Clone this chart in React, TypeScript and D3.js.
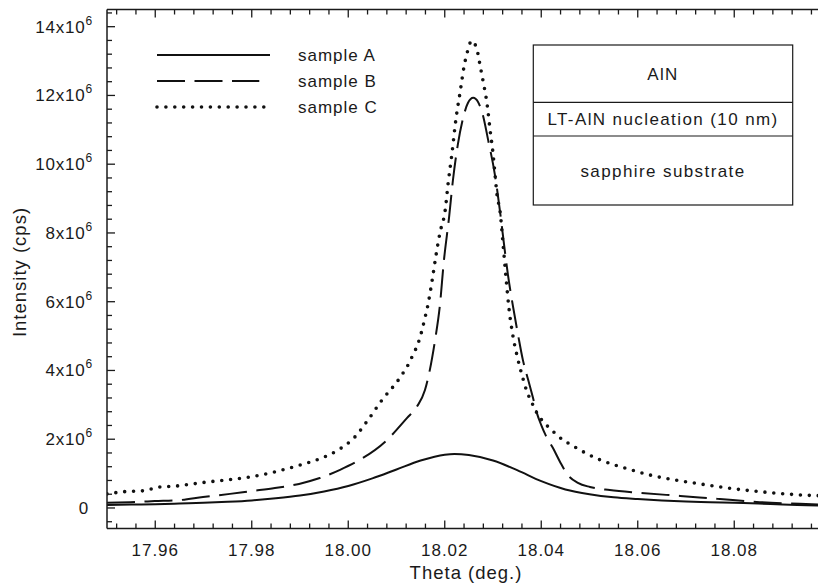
import React from "react";
import * as d3 from "d3";

// ---------- data (intensity in units of 1e6 cps) ----------
const thetaA = [17.95, 17.955, 17.96, 17.965, 17.97, 17.975, 17.98, 17.985, 17.99, 17.995, 18.0, 18.005, 18.01, 18.015, 18.02, 18.022, 18.025, 18.03, 18.035, 18.04, 18.045, 18.05, 18.055, 18.06, 18.065, 18.07, 18.075, 18.08, 18.085, 18.09, 18.095, 18.1];
const intensityA = [0.09, 0.1, 0.11, 0.13, 0.15, 0.18, 0.22, 0.28, 0.36, 0.48, 0.64, 0.86, 1.12, 1.38, 1.55, 1.57, 1.54, 1.38, 1.1, 0.78, 0.54, 0.4, 0.31, 0.26, 0.22, 0.19, 0.17, 0.15, 0.13, 0.1, 0.08, 0.06];

const thetaB = [17.95, 17.9548, 17.9599, 17.9651, 17.9699, 17.9755, 17.9798, 17.9848, 17.9898, 17.9941, 17.9983, 18.0024, 18.0076, 18.0122, 18.0142, 18.0159, 18.0169, 18.018, 18.019, 18.0198, 18.0209, 18.0217, 18.0227, 18.0238, 18.0248, 18.0259, 18.0269, 18.0279, 18.029, 18.0304, 18.0315, 18.0323, 18.0331, 18.0341, 18.0352, 18.0362, 18.0373, 18.0383, 18.0391, 18.04, 18.041, 18.0424, 18.0439, 18.0455, 18.0476, 18.0501, 18.0542, 18.0605, 18.0688, 18.077, 18.0853, 18.0936, 18.0998];
const intensityB = [0.15, 0.17, 0.2, 0.23, 0.32, 0.41, 0.49, 0.58, 0.7, 0.87, 1.11, 1.4, 1.92, 2.62, 2.94, 3.43, 4.01, 4.89, 5.9, 7.16, 8.46, 9.54, 10.56, 11.34, 11.78, 11.93, 11.81, 11.43, 10.7, 9.69, 8.58, 7.65, 6.78, 5.9, 5.03, 4.3, 3.72, 3.2, 2.76, 2.41, 2.09, 1.75, 1.34, 0.96, 0.73, 0.61, 0.52, 0.44, 0.35, 0.26, 0.17, 0.12, 0.09];

const thetaC = [17.95, 17.9533, 17.9575, 17.961, 17.9645, 17.9678, 17.9699, 17.9745, 17.9796, 17.9848, 17.99, 17.9941, 17.9983, 18.0014, 18.0041, 18.007, 18.0084, 18.0099, 18.0111, 18.0122, 18.0134, 18.0145, 18.0153, 18.0159, 18.0165, 18.0174, 18.0182, 18.019, 18.0201, 18.0207, 18.0215, 18.0223, 18.0232, 18.024, 18.0246, 18.0256, 18.0267, 18.0273, 18.0279, 18.0288, 18.0294, 18.03, 18.0304, 18.0308, 18.0315, 18.0321, 18.0327, 18.0333, 18.0341, 18.035, 18.036, 18.037, 18.0381, 18.0391, 18.0404, 18.042, 18.0435, 18.047, 18.0522, 18.0574, 18.0625, 18.0729, 18.0822, 18.088, 18.0936, 18.0998];
const intensityC = [0.41, 0.47, 0.5, 0.61, 0.64, 0.7, 0.74, 0.81, 0.9, 1.05, 1.25, 1.43, 1.72, 2.07, 2.56, 3.14, 3.38, 3.63, 3.87, 4.11, 4.45, 4.8, 5.18, 5.53, 5.9, 6.63, 7.36, 8.0, 8.67, 9.44, 10.32, 11.29, 12.11, 12.84, 13.22, 13.59, 13.32, 12.89, 12.45, 11.72, 10.99, 10.32, 9.73, 9.15, 8.58, 7.65, 6.69, 5.82, 5.03, 4.42, 3.87, 3.4, 3.05, 2.76, 2.51, 2.29, 2.09, 1.77, 1.4, 1.16, 0.96, 0.7, 0.52, 0.44, 0.38, 0.35];

const seriesNames = ["sample A", "sample B", "sample C"];
const xTickLabels = ["17.96", "17.98", "18.00", "18.02", "18.04", "18.06", "18.08"];
const yTickValues = [0, 2, 4, 6, 8, 10, 12, 14];
const layerLabels = ["AlN", "LT-AlN nucleation (10 nm)", "sapphire substrate"];

// ---------- layout ----------
const W = 818;
const H = 587;
const L = 107;
const T = 9.5;
const B = 528.6;
const R = 830.75;
const FONT = "'Liberation Sans', Arial, Helvetica, sans-serif";
const INK = "#1a1a1a";

export default function App() {
  const x = d3.scaleLinear().domain([17.95, 18.1]).range([L, R]);
  const y = d3.scaleLinear().domain([-0.6, 14.5]).range([B, T]);

  const mk = (th: number[], v: number[]) =>
    d3
      .line<number>()
      .x((_, i) => x(th[i]))
      .y((d) => y(d))
      .curve(d3.curveMonotoneX)(v) as string;

  const pathA = mk(thetaA, intensityA);
  const pathB = mk(thetaB, intensityB);
  const pathC = mk(thetaC, intensityC);

  const xMajor = xTickLabels.map((s) => +s);
  const xMinor = d3.range(0, 38).map((i) => +(17.952 + i * 0.004).toFixed(3)).filter((v) => v < 18.1);
  const yMinor = d3.range(-1, 37).map((i) => +(i * 0.4).toFixed(1)).filter((v) => v > -0.6 && v < 14.5);

  const styles = [
    { dash: undefined, width: 2, cap: "butt" },
    { dash: "28 9.5", width: 2, cap: "butt" },
    { dash: "0 8.9", width: 3.6, cap: "round" },
  ];
  const paths = [pathA, pathB, pathC];

  const legendY = [55, 81, 107];
  const legendEnd = [270, 259.3, 264];

  // inset box
  const bx0 = 533.3, bx1 = 792.7;
  const by = [45, 102.3, 136, 205];
  const bcx = (bx0 + bx1) / 2;

  return (
    <svg
      width={W}
      height={H}
      style={{ position: "absolute", left: 0, top: 0, background: "#fff" }}
      fontFamily={FONT}
    >
      <defs>
        <clipPath id="plotclip">
          <rect x={L} y={T} width={R - L} height={B - T} />
        </clipPath>
      </defs>

      {/* curves */}
      <g clipPath="url(#plotclip)" fill="none" stroke="#111">
        {paths.map((p, i) => (
          <path
            key={i}
            d={p}
            strokeWidth={styles[i].width}
            strokeDasharray={styles[i].dash}
            strokeLinecap={styles[i].cap as any}
            strokeLinejoin="round"
          />
        ))}
      </g>

      {/* frame */}
      <g stroke={INK} strokeWidth={1.5} fill="none">
        <line x1={L} x2={R} y1={B} y2={B} />
        <line x1={L} x2={R} y1={T} y2={T} />
        <line x1={L} x2={L} y1={T} y2={B} />
        <line x1={R} x2={R} y1={T} y2={B} />
      </g>

      {/* x ticks */}
      <g stroke={INK} strokeWidth={1.3}>
        {xMinor.map((v) => {
          const major = xMajor.some((m) => Math.abs(m - v) < 1e-6);
          const len = major ? 8 : 5;
          return (
            <g key={v}>
              <line x1={x(v)} x2={x(v)} y1={B} y2={B - len} />
              <line x1={x(v)} x2={x(v)} y1={T} y2={T + len} />
            </g>
          );
        })}
      </g>
      <g fontSize={17} fill={INK} textAnchor="middle" letterSpacing={1}>
        {xTickLabels.map((s) => (
          <text key={s} x={x(+s)} y={555.5}>
            {s}
          </text>
        ))}
      </g>

      {/* y ticks */}
      <g stroke={INK} strokeWidth={1.3}>
        {yMinor.map((v) => {
          const major = yTickValues.some((m) => Math.abs(m - v) < 1e-6);
          const len = major ? 8 : 5;
          return (
            <g key={v}>
              <line x1={L} x2={L + len} y1={y(v)} y2={y(v)} />
              <line x1={R} x2={R - len} y1={y(v)} y2={y(v)} />
            </g>
          );
        })}
      </g>
      <g fontSize={17} fill={INK} textAnchor="end" letterSpacing={0.8}>
        {yTickValues.map((v) =>
          v === 0 ? (
            <text key={v} x={89} y={y(v) + 6}>
              0
            </text>
          ) : (
            <text key={v} x={93} y={y(v) + 6}>
              {`${v}x10`}
              <tspan fontSize={12} dy={-8}>
                6
              </tspan>
            </text>
          )
        )}
      </g>

      {/* axis titles */}
      <text x={466} y={579} fontSize={18.5} fill={INK} textAnchor="middle" letterSpacing={1}>
        Theta (deg.)
      </text>
      <text
        transform={`translate(26,272) rotate(-90)`}
        fontSize={18.5}
        fill={INK}
        textAnchor="middle"
        letterSpacing={1}
      >
        Intensity (cps)
      </text>

      {/* legend */}
      {seriesNames.map((n, i) => (
        <g key={n}>
          <line
            x1={157}
            x2={legendEnd[i]}
            y1={legendY[i]}
            y2={legendY[i]}
            stroke="#111"
            strokeWidth={styles[i].width}
            strokeDasharray={styles[i].dash}
            strokeLinecap={styles[i].cap as any}
          />
          <text x={298} y={legendY[i] + 6} fontSize={17} fill={INK} letterSpacing={1}>
            {n}
          </text>
        </g>
      ))}

      {/* inset layer stack */}
      <g stroke={INK} strokeWidth={1.2} fill="none">
        <rect x={bx0} y={by[0]} width={bx1 - bx0} height={by[3] - by[0]} />
        <line x1={bx0} x2={bx1} y1={by[1]} y2={by[1]} />
        <line x1={bx0} x2={bx1} y1={by[2]} y2={by[2]} />
      </g>
      <g fontSize={17} fill={INK} textAnchor="middle" letterSpacing={1.4}>
        {layerLabels.map((s, i) => (
          <text key={s} x={bcx} y={(by[i] + by[i + 1]) / 2 + 6}>
            {s}
          </text>
        ))}
      </g>
    </svg>
  );
}
